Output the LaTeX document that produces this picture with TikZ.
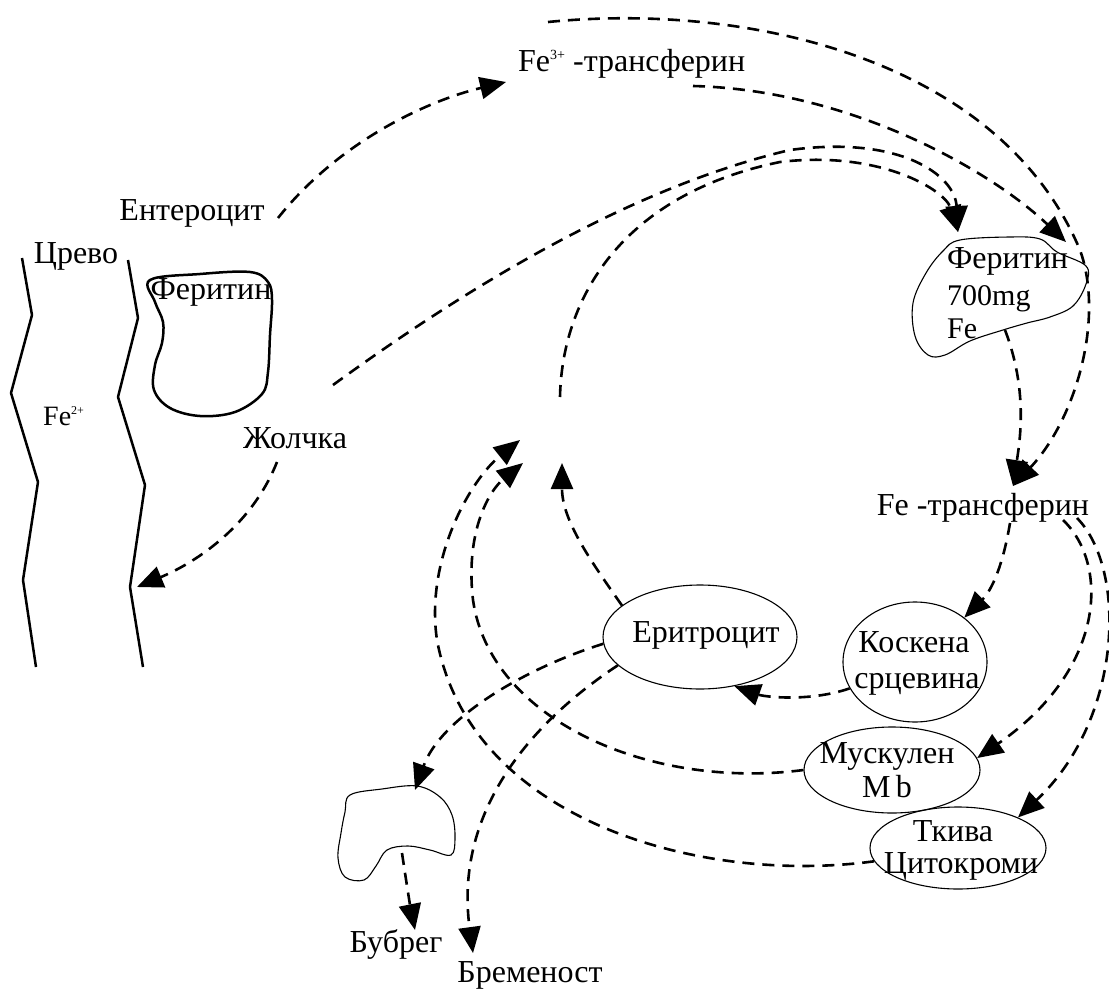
\documentclass[tikz,border=0pt]{standalone}
\usepackage{fontspec}
\setmainfont{Liberation Serif}
\usetikzlibrary{arrows.meta,shapes.geometric}
\begin{document}
\begin{tikzpicture}[x=1pt,y=-1pt,
  txt/.style={font=\fontsize{32}{36}\selectfont, inner sep=0pt, anchor=base},
  txtw/.style={font=\fontsize{32}{36}\selectfont, inner sep=0pt, anchor=base west},
  flow/.style={line width=2.6pt, dash pattern=on 12pt off 8pt, -{Triangle[length=26pt,width=22pt]}},
  organ/.style={draw, ellipse, line width=1.1pt, inner sep=0pt},
  wall/.style={line width=2.5pt, line join=round},
  thinblob/.style={line width=1.1pt},
  thickblob/.style={line width=2.5pt},
]
\useasboundingbox (0,0) rectangle (1109,990);

% intestine walls
\draw[wall] (22,258) -- (32,315) -- (11,393) -- (38,482) -- (23,580) -- (36,667);
\draw[wall] (128,260) -- (138,318) -- (118,397) -- (145,485) -- (130,587) -- (143,667);

% enterocyte ferritin blob
\draw[thickblob] plot[smooth cycle, tension=0.6] coordinates {(150,280) (200,274) (250,272) (268,282) (272,300) (270,335) (268,372) (262,394) (235,412) (200,416) (170,408) (154,390) (155,365) (162,343) (163,322) (155,302)};

% liver ferritin blob
\draw[thinblob] plot[smooth cycle, tension=0.6] coordinates {(960,240) (1010,237) (1040,239) (1057,252) (1086,266) (1086,284) (1073,306) (1050,317) (1027,323) (1003,330) (970,341) (945,355) (928,355) (915,336) (913,303) (926,273) (943,251)};

% kidney blob
\draw[thinblob] plot[smooth cycle, tension=0.6] coordinates {(350,795) (382,789) (417,786) (440,797) (452,815) (455,838) (451,855) (430,850) (408,846) (387,850) (376,866) (364,880) (345,877) (338,858) (341,833) (345,812)};

% texts
\node[txtw] (fe3) at (518,72) {Fe{\fontsize{14}{14}\selectfont\raisebox{12pt}{3+}} -трансферин};
\node[txt] (ent) at (192,220) {Ентероцит};
\node[txt] (crevo) at (76,263) {Црево};
\node[txt] (feritL) at (211,299) {Феритин};
\node[txtw,font=\fontsize{28}{30}\selectfont] (fe2) at (43,425) {Fe{\fontsize{12}{12}\selectfont\raisebox{11pt}{2+}}};
\node[txt] (zhol) at (295,448) {Жолчка};
\node[txtw] (feritR) at (947,268) {Феритин};
\node[txtw,font=\fontsize{30}{34}\selectfont] (mg) at (947,305) {700mg};
\node[txtw,font=\fontsize{30}{34}\selectfont] (feR) at (947,338) {Fe};
\node[txt] (fet) at (983,515) {Fe -трансферин};
\node[txt] (bubT) at (396,952) {Бубрег};
\node[txt] (bremT) at (530,982) {Бременост};

% organ ellipses
\node[organ, minimum width=194pt, minimum height=104pt] (eri) at (700,637) {};
\node[organ, minimum width=144pt, minimum height=120pt] (kos) at (915,662) {};
\node[organ, minimum width=176pt, minimum height=86pt] (mus) at (892,770) {};
\node[organ, minimum width=176pt, minimum height=82pt] (tk) at (958,848) {};
\node[txt] (eriT) at (706,642) {Еритроцит};
\node[txt] (kosT1) at (914,652) {Коскена};
\node[txt] (kosT2) at (917,688) {срцевина};
\node[txt] (musT1) at (887,763) {Мускулен};
\node[txt] (musT2) at (887,797) {M\,b};
\node[txt] (tkT1) at (953,841) {Ткива};
\node[txt] (tkT2) at (961,873) {Цитокроми};

% connector end points
\coordinate (a1) at (278,218);
\coordinate (a2) at (506,82);
\coordinate (b1) at (548,22);
\coordinate (c1) at (693,86);
\coordinate (d1) at (333,385);
\coordinate (e1) at (560,397);
\coordinate (fer1) at (958,232);
\coordinate (fer2) at (1066,242);
\coordinate (fer3) at (1005,330);
\coordinate (ftr1) at (1013,486);
\coordinate (ftr2) at (1010,523);
\coordinate (ftr3) at (1063,520);
\coordinate (ftr4) at (1077,518);
\coordinate (hub1) at (520,440);
\coordinate (hub2) at (523,463);
\coordinate (hub3) at (562,463);
\coordinate (kid1) at (415,790);
\coordinate (kid2) at (402,853);
\coordinate (kid3) at (415,930);
\coordinate (brem) at (473,953);
\coordinate (zh1) at (277,462);
\coordinate (gut) at (137,587);

% connectors
\draw[flow] (a1) .. controls (340,140) and (430,100) .. (a2);
\draw[flow] (b1) .. controls (750,2) and (1000,60) .. (1080,250) .. controls (1105,320) and (1075,420) .. (ftr1);
\draw[flow] (c1) .. controls (850,90) and (990,170) .. (fer2);
\draw[flow] (d1) .. controls (450,300) and (620,190) .. (790,150) .. controls (900,135) and (955,175) .. (fer1);
\draw[flow] (e1) .. controls (562,300) and (620,195) .. (780,162) .. controls (880,150) and (945,190) .. (fer1);
\draw[flow] (fer3) .. controls (1028,390) and (1020,440) .. (ftr1);
\draw[flow] (ftr2) .. controls (1003,565) and (992,590) .. (kos.42);
\draw[flow] (ftr3) .. controls (1110,565) and (1105,670) .. (mus.8);
\draw[flow] (ftr4) .. controls (1128,570) and (1122,720) .. (tk.27);
\draw[flow] (kos.202) .. controls (810,702) and (765,697) .. (eri.-55);
\draw[flow] (eri.158) .. controls (590,560) and (562,520) .. (hub3);
\draw[flow] (mus.180) .. controls (650,790) and (490,720) .. (473,600) .. controls (465,530) and (490,490) .. (hub2);
\draw[flow] (tk.189) .. controls (700,885) and (470,820) .. (437,640) .. controls (425,560) and (470,480) .. (hub1);
\draw[flow] (eri.184) .. controls (520,670) and (440,720) .. (kid1);
\draw[flow] (eri.199) .. controls (520,730) and (455,820) .. (brem);
\draw[flow] (kid2) .. controls (406,880) and (410,905) .. (kid3);
\draw[flow] (zh1) .. controls (250,530) and (190,565) .. (gut);
\end{tikzpicture}
\end{document}
